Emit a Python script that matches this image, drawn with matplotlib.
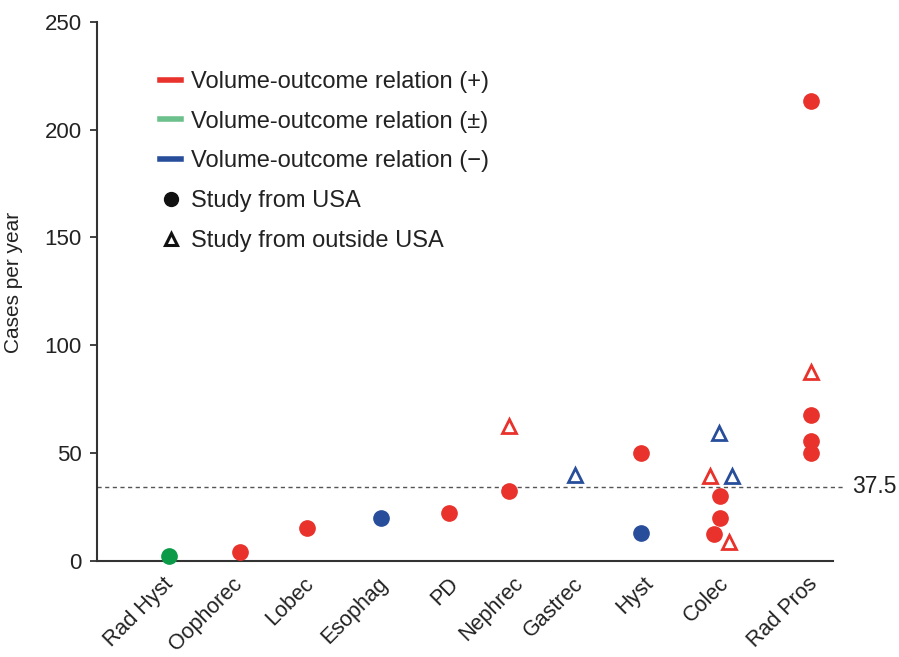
import matplotlib.pyplot as plt
from matplotlib.lines import Line2D

plt.rcParams['font.family'] = ['Liberation Sans', 'DejaVu Sans']

# procedures on the x axis
categories = ["Rad Hyst", "Oophorec", "Lobec", "Esophag", "PD",
              "Nephrec", "Gastrec", "Hyst", "Colec", "Rad Pros"]
cat_pos = [1.03, 2.04, 3.00, 4.06, 5.03, 5.89, 6.83, 7.77, 8.84, 10.20]
label_pos = [0.94, 1.93, 2.94, 4.01, 5.01, 5.94, 6.79, 7.79, 8.87, 10.14]

# one entry per study
study_cat = [0, 1, 2, 3, 4, 5, 5, 6, 7, 7, 8, 8, 8, 8, 8, 8, 8, 9, 9, 9, 9, 9]
study_cases = [2, 4, 15, 20, 22, 32.4, 62.7, 39.9, 50, 12.9,
               39.4, 59.3, 39.4, 29.8, 20, 12.4, 8.8,
               213.4, 87.4, 67.4, 55.4, 50]
study_rel = ["pm", "+", "+", "-", "+", "+", "+", "-", "+", "-",
             "+", "-", "-", "+", "+", "+", "+",
             "+", "+", "+", "+", "+"]
study_usa = [True, True, True, True, True, True, False, False, True, True,
             False, False, False, True, True, True, False,
             True, False, True, True, True]
study_jitter = [0, 0, 0, 0, 0, 0, 0, 0, 0, 0,
                -0.09, 0.04, 0.23, 0.06, 0.06, -0.03, 0.19,
                0, 0, 0, 0, 0]

threshold = 34.3
threshold_label = "37.5"

red = '#E8322B'
green = '#0A9A48'
green_light = '#6CC08B'
blue = '#284E9B'
rel_color = {"+": red, "pm": green, "-": blue}

fig = plt.figure(figsize=(8.99, 6.57), dpi=100)
ax = fig.add_axes([0.1079, 0.1466, 0.8187, 0.8199])

for c, y, r, usa, j in zip(study_cat, study_cases, study_rel, study_usa, study_jitter):
    x = cat_pos[c] + j
    col = rel_color[r]
    if usa:
        ax.plot(x, y, 'o', ms=11, color=col, mec=col, clip_on=False, zorder=3)
    else:
        ax.plot(x, y, '^', ms=10.5, mfc='none', mec=col, mew=2, clip_on=False, zorder=3)

xmax = 10.514
ax.plot([0, 10.69], [threshold, threshold], ls=(0, (3, 2.5)), color='#555555',
        lw=1, clip_on=False, zorder=1)
ax.text(10.79, threshold, threshold_label, fontsize=16.5, va='center', ha='left',
        color='#222222')

ax.set_xlim(0, xmax)
ax.set_ylim(0, 250)
ax.set_yticks([0, 50, 100, 150, 200, 250])
ax.set_xticks(label_pos)
ax.set_xticklabels(categories, rotation=45, ha='right', va='top',
                   rotation_mode='anchor', fontsize=15.5, color='#222222')
ax.tick_params(axis='x', length=0, pad=9)
ax.tick_params(axis='y', length=5, width=1.3, pad=6, labelsize=16,
               labelcolor='#222222', color='#333333')
for s in ['top', 'right']:
    ax.spines[s].set_visible(False)
for s in ['left', 'bottom']:
    ax.spines[s].set_linewidth(1.5)
    ax.spines[s].set_color('#333333')

ax.set_ylabel("Cases per year", fontsize=15, color='#222222')
ax.yaxis.set_label_coords(-0.101, 0.516)

handles = [
    Line2D([], [], color=red, lw=4),
    Line2D([], [], color=green_light, lw=4),
    Line2D([], [], color=blue, lw=4),
    Line2D([], [], ls='none', marker='o', ms=10, color='#111111'),
    Line2D([], [], ls='none', marker='^', ms=8.5, mfc='none', mec='#111111', mew=2.2),
]
labels = ["Volume-outcome relation (+)", "Volume-outcome relation (\u00b1)",
          "Volume-outcome relation (\u2212)", "Study from USA",
          "Study from outside USA"]
fig.legend(handles, labels, loc='upper left', bbox_to_anchor=(160 / 899, 1 - 71 / 657),
           bbox_transform=fig.transFigure, frameon=False, fontsize=17,
           handlelength=0.9, handletextpad=0.4, labelspacing=0.75,
           borderpad=0, borderaxespad=0, labelcolor='#222222')

fig.savefig("out.png", dpi=100)
